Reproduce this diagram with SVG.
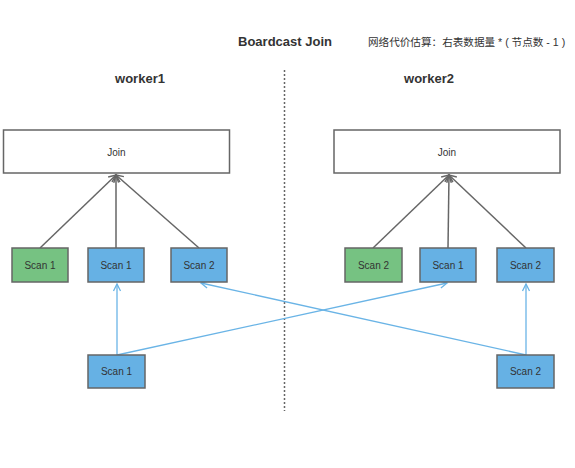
<svg xmlns="http://www.w3.org/2000/svg" width="575" height="468" viewBox="0 0 575 468">
<style>
.box{stroke:#666;stroke-width:1.5}
.join{fill:#fff}
.green{fill:#76c282}
.blue{fill:#66b1e4}
.lbl{font-family:"Liberation Sans",Arial,sans-serif;font-size:10px;fill:#333;text-anchor:middle;dominant-baseline:central}
.title{font-family:"Liberation Sans",Arial,sans-serif;font-size:13px;font-weight:bold;fill:#333;text-anchor:middle}
.gl{stroke:#666;stroke-width:1.5;fill:none}
.bl{stroke:#6ab4e6;stroke-width:1.3;fill:none}
</style>
<defs>
<marker id="ag" markerWidth="10" markerHeight="10" refX="8" refY="5" orient="auto" markerUnits="userSpaceOnUse">
<path d="M1,1 L8,5 L1,9" fill="none" stroke="#666" stroke-width="1.5"/>
</marker>
<marker id="ab" markerWidth="10" markerHeight="10" refX="8" refY="5" orient="auto" markerUnits="userSpaceOnUse">
<path d="M1,1.5 L8,5 L1,8.5" fill="none" stroke="#6ab4e6" stroke-width="1.3"/>
</marker>
</defs>
<rect width="575" height="468" fill="#fff"/>
<text class="title" x="285" y="46">Boardcast Join</text>
<text x="368" y="46" font-family="'Liberation Sans','Noto Sans CJK SC',sans-serif" font-size="10.6" fill="#333">网络代价估算：右表数据量 * ( 节点数 - 1 )</text>
<text class="title" x="140" y="83">worker1</text>
<text class="title" x="429" y="83">worker2</text>
<line x1="284.5" y1="70" x2="284.5" y2="411" stroke="#666" stroke-width="1.5" stroke-dasharray="2,2"/>
<g id="connectors">
<line class="gl" x1="40" y1="248" x2="116" y2="175" marker-end="url(#ag)"/>
<line class="gl" x1="116" y1="248" x2="116" y2="175" marker-end="url(#ag)"/>
<line class="gl" x1="199" y1="248" x2="116" y2="175" marker-end="url(#ag)"/>
<line class="gl" x1="373" y1="248" x2="449" y2="175" marker-end="url(#ag)"/>
<line class="gl" x1="448" y1="248" x2="449" y2="175" marker-end="url(#ag)"/>
<line class="gl" x1="526" y1="248" x2="449" y2="175" marker-end="url(#ag)"/>
<line class="bl" x1="117" y1="355" x2="117" y2="284" marker-end="url(#ab)"/>
<line class="bl" x1="117" y1="355" x2="447" y2="283" marker-end="url(#ab)"/>
<line class="bl" x1="526" y1="355" x2="526" y2="284" marker-end="url(#ab)"/>
<line class="bl" x1="526" y1="355" x2="201" y2="283" marker-end="url(#ab)"/>
</g>
<g id="join1"><rect class="box join" x="3.5" y="130" width="226" height="43"/><text class="lbl" x="116.5" y="152">Join</text></g>
<g id="join2"><rect class="box join" x="334" y="130" width="226" height="43"/><text class="lbl" x="447" y="152">Join</text></g>
<g id="w1scan1g"><rect class="box green" x="12" y="248" width="56" height="34"/><text class="lbl" x="40" y="265">Scan 1</text></g>
<g id="w1scan1b"><rect class="box blue" x="88" y="248" width="56" height="34"/><text class="lbl" x="116" y="265">Scan 1</text></g>
<g id="w1scan2b"><rect class="box blue" x="171" y="248" width="56" height="34"/><text class="lbl" x="199" y="265">Scan 2</text></g>
<g id="w2scan2g"><rect class="box green" x="345" y="248" width="57" height="34"/><text class="lbl" x="373.5" y="265">Scan 2</text></g>
<g id="w2scan1b"><rect class="box blue" x="420" y="248" width="56" height="34"/><text class="lbl" x="448" y="265">Scan 1</text></g>
<g id="w2scan2b"><rect class="box blue" x="497" y="248" width="57" height="34"/><text class="lbl" x="525.5" y="265">Scan 2</text></g>
<g id="srcscan1"><rect class="box blue" x="88" y="355" width="57" height="33"/><text class="lbl" x="116.5" y="371.5">Scan 1</text></g>
<g id="srcscan2"><rect class="box blue" x="497" y="355" width="57" height="33"/><text class="lbl" x="525.5" y="371.5">Scan 2</text></g>
</svg>
